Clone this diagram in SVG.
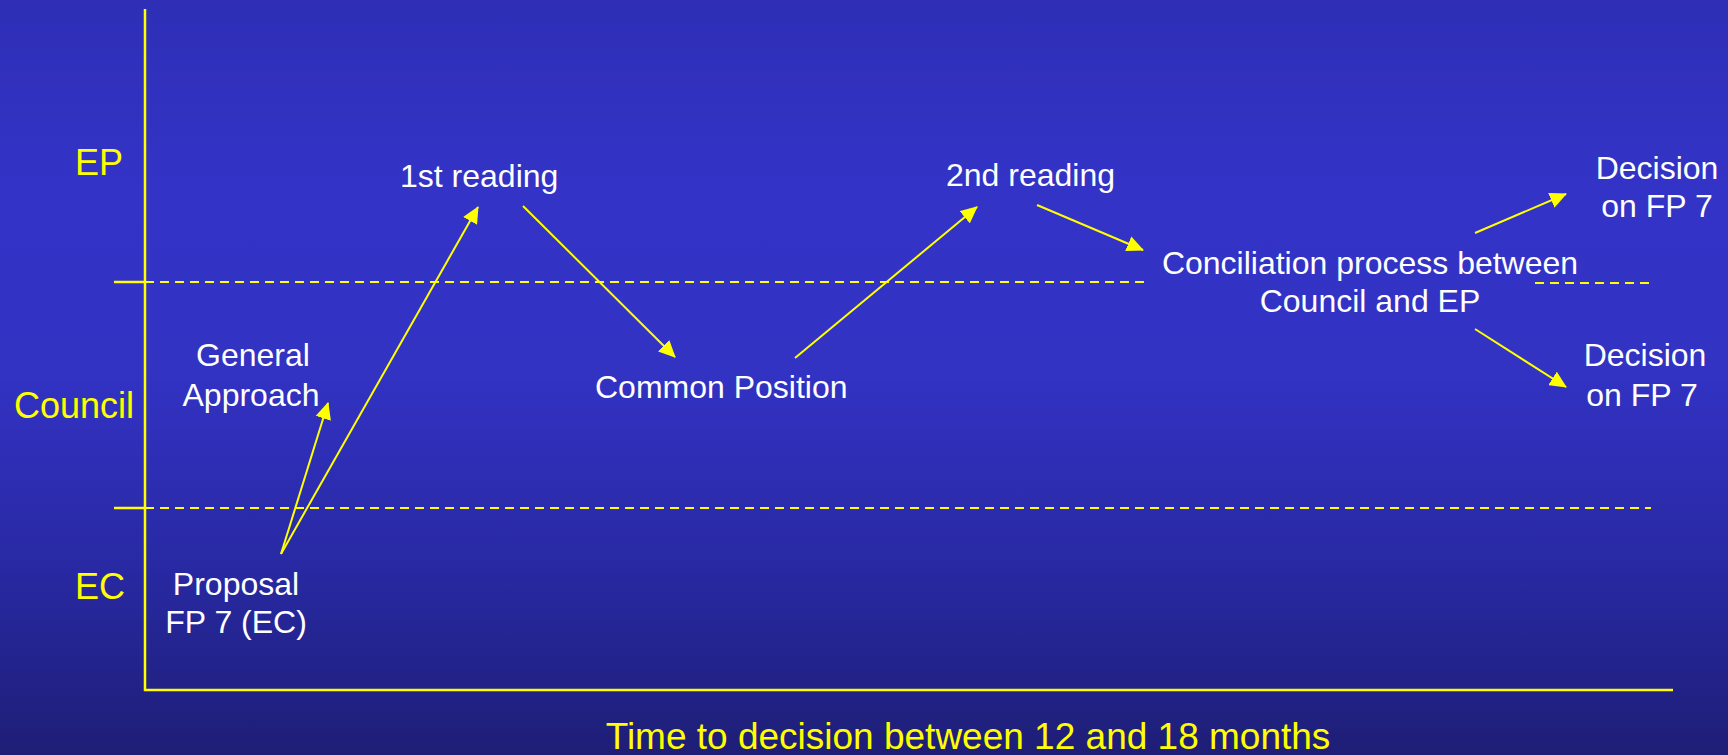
<svg xmlns="http://www.w3.org/2000/svg" width="1728" height="755" viewBox="0 0 1728 755">
<defs>
<linearGradient id="bg" x1="0" y1="0" x2="0" y2="1">
<stop offset="0" stop-color="#2e2fb6"/>
<stop offset="0.25" stop-color="#3333c7"/>
<stop offset="0.5" stop-color="#3232c3"/>
<stop offset="0.75" stop-color="#2829a3"/>
<stop offset="1" stop-color="#1e1e76"/>
</linearGradient>
<marker id="ah" markerUnits="userSpaceOnUse" markerWidth="17" markerHeight="16" refX="16" refY="8" orient="auto">
<path d="M0,0 L17,8 L0,16 Z" fill="#ffff00"/>
</marker>
<style>
.lane{font-family:"Liberation Sans",Arial,sans-serif;font-size:36px;fill:#ffff00}
.node{font-family:"Liberation Sans",Arial,sans-serif;font-size:32px;fill:#ffffff}
.cap{font-family:"Liberation Sans",Arial,sans-serif;font-size:37px;fill:#ffff00}
.axis{stroke:#ffff00;stroke-width:2.5;fill:none}
.dash{stroke:#ffff00;stroke-width:2;stroke-dasharray:9,6;fill:none}
.arr{stroke:#ffff00;stroke-width:2;fill:none;marker-end:url(#ah)}
</style>
</defs>
<rect x="0" y="0" width="1728" height="755" fill="url(#bg)"/>
<g id="axes">
<polyline class="axis" points="145,9 145,690 1673,690"/>
<line class="axis" x1="114" y1="282" x2="145" y2="282"/>
<line class="axis" x1="114" y1="508" x2="145" y2="508"/>
<line class="dash" x1="145" y1="282" x2="1146" y2="282"/>
<line class="dash" x1="1535" y1="283" x2="1655" y2="283"/>
<line class="dash" x1="145" y1="508" x2="1651" y2="508"/>
</g>
<g id="lanes">
<text class="lane" x="75" y="175">EP</text>
<text class="lane" x="14" y="418">Council</text>
<text class="lane" x="75" y="599">EC</text>
</g>
<g id="proposal"><text class="node" text-anchor="middle" x="236" y="595">Proposal</text><text class="node" text-anchor="middle" x="236" y="633">FP 7 (EC)</text></g>
<g id="general-approach"><text class="node" text-anchor="middle" x="253" y="366">General</text><text class="node" text-anchor="middle" x="251" y="406">Approach</text></g>
<g id="first-reading"><text class="node" x="400" y="187">1st reading</text></g>
<g id="common-position"><text class="node" x="595" y="398">Common Position</text></g>
<g id="second-reading"><text class="node" x="946" y="186">2nd reading</text></g>
<g id="conciliation"><text class="node" text-anchor="middle" x="1370" y="274">Conciliation process between</text><text class="node" text-anchor="middle" x="1370" y="312">Council and EP</text></g>
<g id="decision-ep"><text class="node" text-anchor="middle" x="1657" y="179">Decision</text><text class="node" text-anchor="middle" x="1657" y="217">on FP 7</text></g>
<g id="decision-council"><text class="node" text-anchor="middle" x="1645" y="366">Decision</text><text class="node" text-anchor="middle" x="1642" y="406">on FP 7</text></g>
<g id="connectors">
<line class="arr" x1="281" y1="554" x2="328" y2="403"/>
<line class="arr" x1="281" y1="554" x2="478" y2="207"/>
<line class="arr" x1="523" y1="206" x2="675" y2="357"/>
<line class="arr" x1="795" y1="358" x2="977" y2="207"/>
<line class="arr" x1="1037" y1="205" x2="1143" y2="250"/>
<line class="arr" x1="1475" y1="233" x2="1566" y2="194"/>
<line class="arr" x1="1475" y1="329" x2="1566" y2="387"/>
</g>
<g id="caption"><text class="cap" text-anchor="middle" x="968" y="749">Time to decision between 12 and 18 months</text></g>
</svg>
